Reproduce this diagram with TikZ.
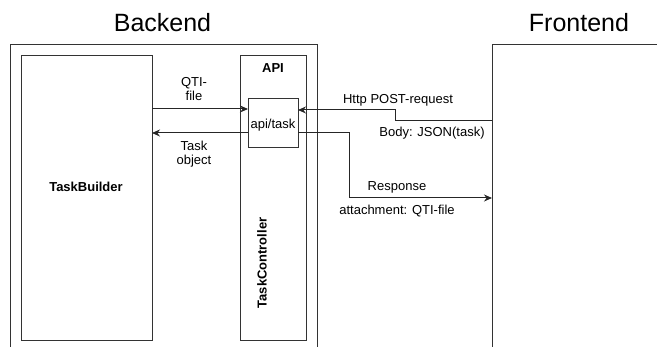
\documentclass[tikz,border=0pt]{standalone}
\usepackage{fontspec}
\setmainfont{Liberation Sans}
\usetikzlibrary{arrows.meta}

\begin{document}
\begin{tikzpicture}[x=1pt,y=-1pt,line width=1pt,draw=black!80,
            box/.style={draw=black!80,rectangle,inner sep=0pt,outer sep=0pt},
            main node/.style={font=\fontsize{13}{14}\selectfont,align=center,inner sep=0pt},
            bold node/.style={main node,font=\fontsize{13}{14}\selectfont\bfseries},
            title node/.style={font=\fontsize{25}{28}\selectfont,inner sep=0pt},
            arrow/.style={draw=black!85,-{Stealth[length=8pt,width=7pt]}}]

        \clip (0,0) rectangle (657,347);

        % Define boxes
        \node[title node] (bt) at (162.5,23) {Backend};
        \node[title node] (ft) at (579,23) {Frontend};
        \node[box,minimum width=307,minimum height=355] (backend) at (163.5,222.5) {};
        \node[box,minimum width=228,minimum height=355] (frontend) at (606,222.5) {};
        \node[box,minimum width=131,minimum height=285] (builder) at (86.5,198.5) {};
        \node[box,minimum width=66,minimum height=285] (api) at (273,198.5) {};
        \node[box,minimum width=50,minimum height=49] (task) at (273,123.5) {};

        % Box labels
        \node[bold node] (bl) at (86,187) {TaskBuilder};
        \node[bold node,rotate=90] (cl) at (262,263) {TaskController};
        \node[bold node] (al) at (273,68) {API};
        \node[main node] (tl) at (273,125) {api/task};

        % Draw edges
        \draw[arrow] ([yshift=14.5pt]task.west -| builder.east) -- ([yshift=14.5pt]task.west);
        \draw[arrow] ([yshift=-9.5pt]task.west) -- ([yshift=-9.5pt]task.west -| builder.east);
        \draw[arrow] ([yshift=2.5pt]task.east -| frontend.west) -- ++(-97,0) -- ++(0,-11)
            -- ([yshift=13.5pt]task.east);
        \draw[arrow] ([yshift=-9.5pt]task.east) -- ++(51,0) |- ([yshift=24.5pt]frontend.west);

        % Edge labels
        \node[main node] (qti) at (194,89.5) {QTI-\\file};
        \node[main node] (obj) at (194,154.5) {Task\\object};
        \node[main node] (req) at (398,100) {Http POST-request};
        \node[main node] (body) at (432,133) {Body: JSON(task)};
        \node[main node] (resp) at (397,187) {Response};
        \node[main node] (att) at (397,211) {attachment: QTI-file};

\end{tikzpicture}
\end{document}
